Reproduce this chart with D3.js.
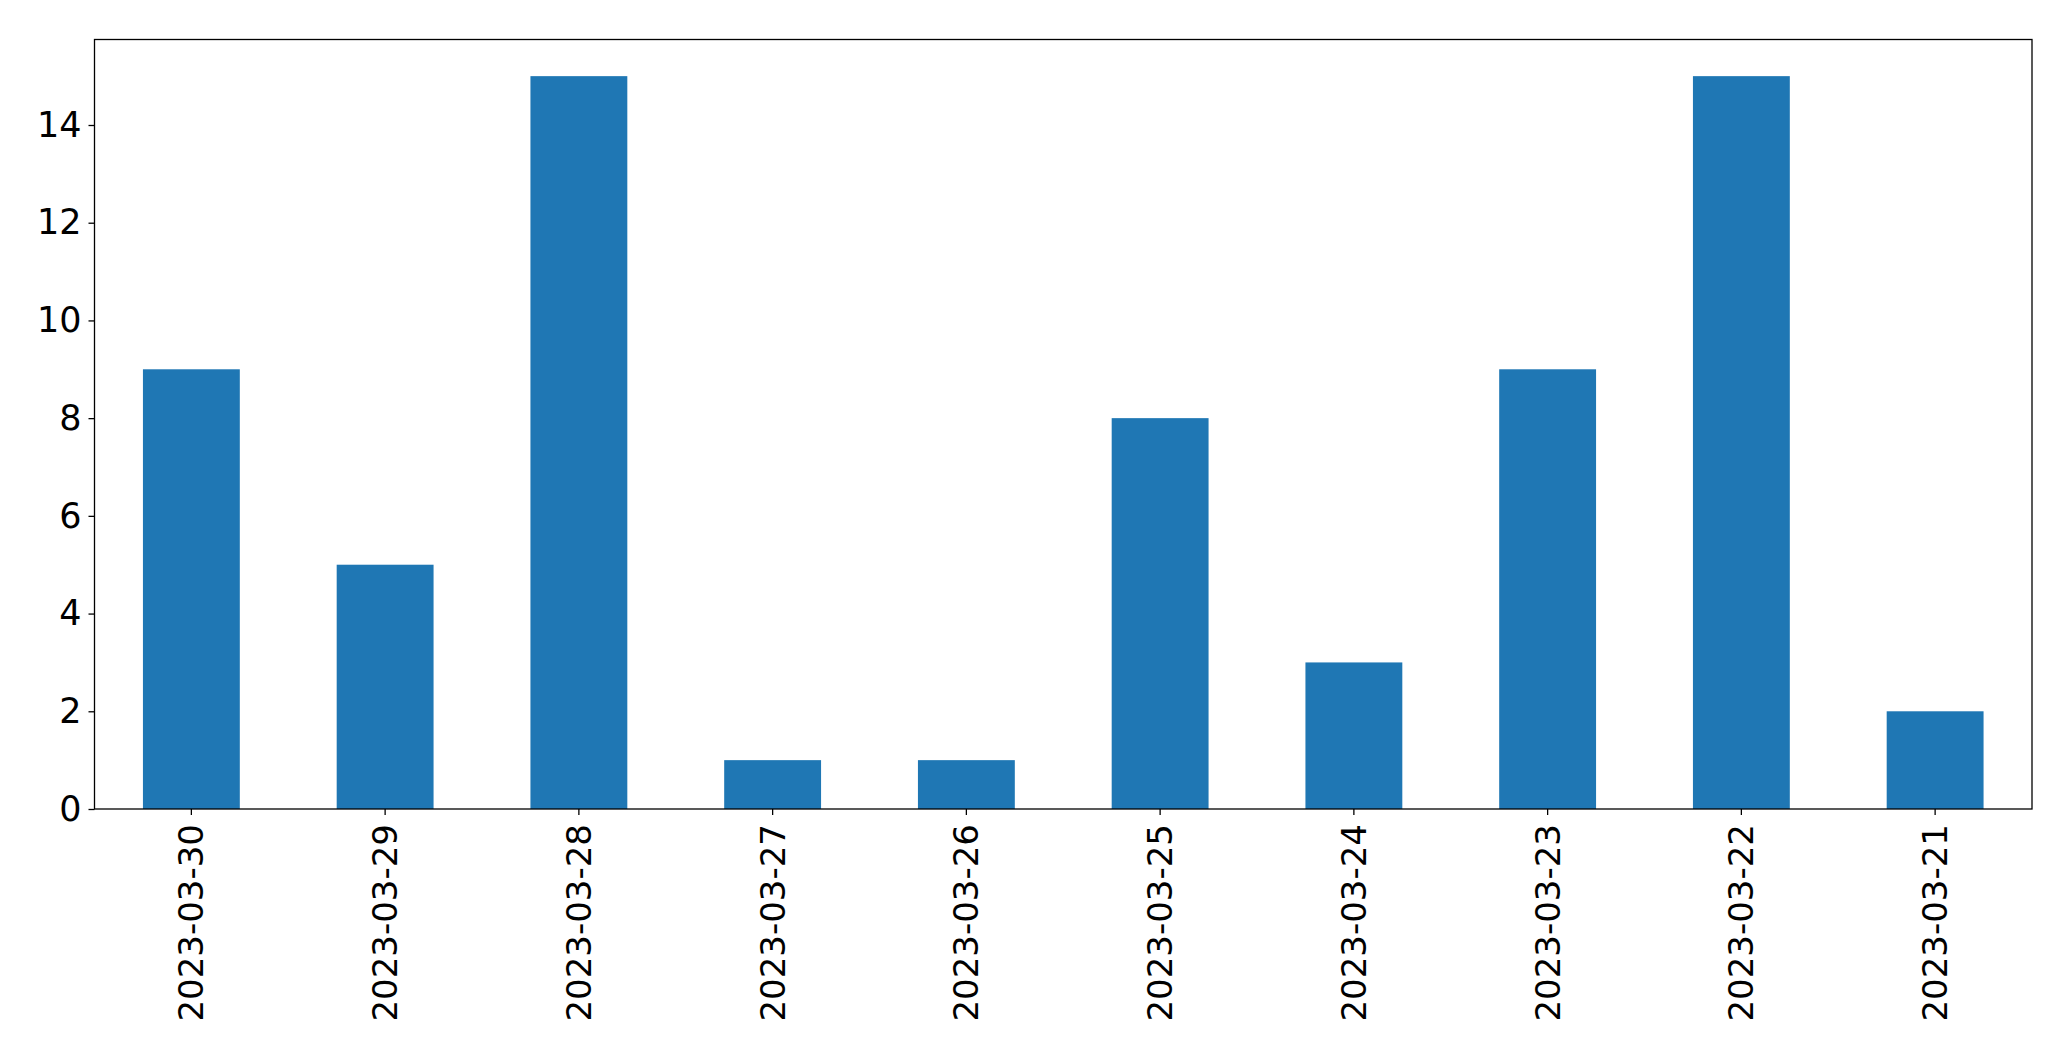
<!DOCTYPE html>
<html>
<head>
<meta charset="utf-8">
<script src="https://cdn.jsdelivr.net/npm/d3@7"></script>
<style>
  body { margin: 0; background: #fff; }
  .axis text { font-family: "DejaVu Sans", sans-serif; font-size: 35px; fill: #000; }
  .x-axis text { font-size: 34px; }
  .axis path, .axis line { stroke: #000; stroke-width: 1.3; }
</style>
</head>
<body>
<div id="chart"></div>
<script>
// Data
const dates = ["2023-03-30", "2023-03-29", "2023-03-28", "2023-03-27", "2023-03-26",
               "2023-03-25", "2023-03-24", "2023-03-23", "2023-03-22", "2023-03-21"];
const counts = [9, 5, 15, 1, 1, 8, 3, 9, 15, 2];
const yTicks = [0, 2, 4, 6, 8, 10, 12, 14];

const width = 2071, height = 1061;
const margin = { top: 39.5, right: 39, bottom: 252, left: 94.5 };
const innerW = width - margin.left - margin.right;
const innerH = height - margin.top - margin.bottom;

const svg = d3.select("#chart").append("svg")
    .attr("width", width)
    .attr("height", height);

const g = svg.append("g")
    .attr("transform", `translate(${margin.left},${margin.top})`);

// Scales: bars take half of each slot, like pandas bar plots
const x = d3.scaleBand()
    .domain(dates)
    .range([0, innerW])
    .paddingInner(0.5)
    .paddingOuter(0.25);

const yMax = d3.max(counts) * 1.05;
const y = d3.scaleLinear()
    .domain([0, yMax])
    .range([innerH, 0]);

// Bars
g.selectAll("rect.bar")
    .data(dates)
    .join("rect")
    .attr("class", "bar")
    .attr("x", d => x(d))
    .attr("y", (d, i) => y(counts[i]))
    .attr("width", x.bandwidth())
    .attr("height", (d, i) => innerH - y(counts[i]))
    .attr("fill", "#1f77b4");

// Y axis
const yAxis = g.append("g")
    .attr("class", "axis")
    .call(d3.axisLeft(y).tickValues(yTicks).tickSize(6).tickPadding(7).tickSizeOuter(0));
yAxis.select(".domain").remove();

// X axis with rotated labels
const xAxis = g.append("g")
    .attr("class", "axis x-axis")
    .attr("transform", `translate(0,${innerH})`)
    .call(d3.axisBottom(x).tickSize(6).tickSizeOuter(0));
xAxis.select(".domain").remove();
xAxis.selectAll("text")
    .attr("transform", "rotate(-90)")
    .attr("x", -15)
    .attr("y", 0)
    .attr("dy", "0.35em")
    .attr("text-anchor", "end");

// Frame around the plot area
g.append("rect")
    .attr("width", innerW)
    .attr("height", innerH)
    .attr("fill", "none")
    .attr("stroke", "#000")
    .attr("stroke-width", 1.3);
</script>
</body>
</html>
